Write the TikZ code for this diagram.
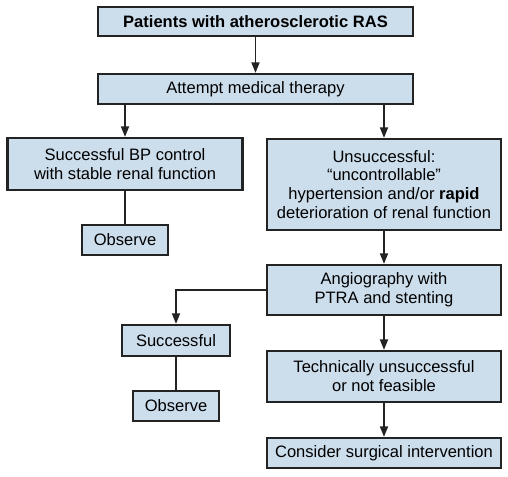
\documentclass[tikz,border=0pt]{standalone}
\usepackage{fontspec}
\setmainfont{Liberation Sans}
\usetikzlibrary{arrows.meta}

\definecolor{boxfill}{RGB}{204,221,236}
\definecolor{boxline}{RGB}{35,35,35}

\tikzstyle{stepbox}=[
    draw=boxline,
    fill=boxfill,
    line width=1.6pt,
    inner sep=0pt,
    align=center,
    font=\fontsize{12.4}{14.2}\selectfont,
  ]
\tikzstyle{flow}=[
    -{Triangle[length=8pt,width=6pt]},
    line width=1.4pt,
    draw=boxline,
  ]
\tikzstyle{link}=[
    line width=1.4pt,
    draw=boxline,
  ]

\begin{document}
\begin{tikzpicture}[x=0.75pt, y=-0.75pt]
      \useasboundingbox (0,0) rectangle (508,476);
      \node[stepbox, minimum width=236.25pt, minimum height=21.75pt] (patients) at (255.5,21.5) {\textbf{Patients with atherosclerotic RAS}};
      \node[stepbox, minimum width=236.25pt, minimum height=22.5pt] (medical) at (255.5,89) {Attempt medical therapy};
      \node[stepbox, minimum width=176.25pt, minimum height=39pt] (control) at (125,164) {Successful BP control\\with stable renal function};
      \node[stepbox, minimum width=175.5pt, minimum height=68.25pt] (failed) at (384,184.5) {Unsuccessful:\\``uncontrollable''\\hypertension and/or \textbf{rapid}\\deterioration of renal function};
      \node[stepbox, minimum width=64.5pt, minimum height=22.5pt] (observeA) at (125,240) {Observe};
      \node[stepbox, minimum width=175.5pt, minimum height=37.5pt] (angio) at (384,290) {Angiography with\\PTRA and stenting};
      \node[stepbox, minimum width=81pt, minimum height=23.25pt] (success) at (176,340.5) {Successful};
      \node[stepbox, minimum width=64.5pt, minimum height=22.5pt] (observeB) at (176,406) {Observe};
      \node[stepbox, minimum width=175.5pt, minimum height=38.25pt] (technical) at (384,376.5) {Technically unsuccessful\\or not feasible};
      \node[stepbox, minimum width=175.5pt, minimum height=22.5pt] (surgery) at (384,453) {Consider surgical intervention};

      \draw[flow] (patients) to (medical);
      \draw[flow] (medical.south -| control.north) to (control.north);
      \draw[flow] (medical.south -| failed.north) to (failed.north);
      \draw[link] (control) to (observeA);
      \draw[flow] (failed) to (angio);
      \draw[flow] (angio.west) -| (success.north);
      \draw[link] (success) to (observeB);
      \draw[flow] (angio) to (technical);
      \draw[flow] (technical) to (surgery);
    \end{tikzpicture}
\end{document}
